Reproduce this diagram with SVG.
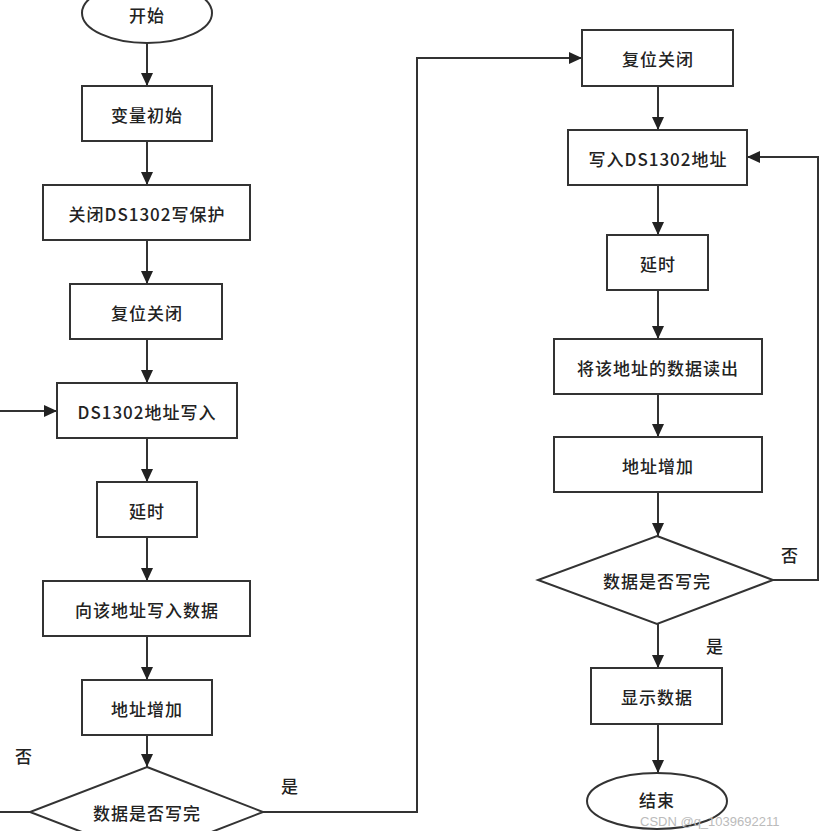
<svg xmlns="http://www.w3.org/2000/svg" width="820" height="831" viewBox="0 0 820 831">
<style>
.s{fill:#fff;stroke:#333;stroke-width:2}
.t{font-family:"Noto Sans CJK SC","Liberation Sans",sans-serif;font-size:17px;font-weight:500;fill:#222;text-anchor:middle;dominant-baseline:central;letter-spacing:1px}
.c{fill:none;stroke:#333;stroke-width:2}
.w{font-family:"Liberation Sans",sans-serif;font-size:13px;fill:#bbb}
</style>
<defs>
<marker id="a" markerUnits="userSpaceOnUse" markerWidth="13" markerHeight="12" refX="13" refY="6" orient="auto">
<path d="M0,0 L13,6 L0,12 Z" fill="#222"/>
</marker>
</defs>
<rect width="820" height="831" fill="#fff"/>
<g id="connectors">
<path class="c" d="M147,43 V86" marker-end="url(#a)"/>
<path class="c" d="M147,141 V185" marker-end="url(#a)"/>
<path class="c" d="M147,240 V284" marker-end="url(#a)"/>
<path class="c" d="M147,339 V383" marker-end="url(#a)"/>
<path class="c" d="M147,438 V482" marker-end="url(#a)"/>
<path class="c" d="M147,537 V581" marker-end="url(#a)"/>
<path class="c" d="M147,636 V680" marker-end="url(#a)"/>
<path class="c" d="M147,735 V767" marker-end="url(#a)"/>
<path class="c" d="M263,812 H417 V58 H582" marker-end="url(#a)"/>
<path class="c" d="M30,812 H-5 V411 H57" marker-end="url(#a)"/>
<path class="c" d="M658,86 V130" marker-end="url(#a)"/>
<path class="c" d="M658,185 V235" marker-end="url(#a)"/>
<path class="c" d="M658,290 V339" marker-end="url(#a)"/>
<path class="c" d="M658,394 V437" marker-end="url(#a)"/>
<path class="c" d="M658,492 V536" marker-end="url(#a)"/>
<path class="c" d="M658,624 V668" marker-end="url(#a)"/>
<path class="c" d="M658,724 V773" marker-end="url(#a)"/>
<path class="c" d="M773,580 H818 V157 H747" marker-end="url(#a)"/>
<text class="t" x="24" y="755">否</text>
<text class="t" x="290" y="785">是</text>
<text class="t" x="790" y="554">否</text>
<text class="t" x="715" y="645">是</text>
</g>
<g id="start"><ellipse class="s" cx="147" cy="13" rx="65" ry="30"/><text class="t" x="147" y="14">开始</text></g>
<g id="init"><rect class="s" x="82" y="86" width="130" height="55"/><text class="t" x="147" y="114">变量初始</text></g>
<g id="wp"><rect class="s" x="43" y="185" width="207" height="55"/><text class="t" x="147" y="213">关闭DS1302写保护</text></g>
<g id="reset1"><rect class="s" x="70" y="284" width="152" height="55"/><text class="t" x="147" y="312">复位关闭</text></g>
<g id="addrw"><rect class="s" x="57" y="383" width="180" height="55"/><text class="t" x="147" y="411">DS1302地址写入</text></g>
<g id="delay1"><rect class="s" x="97" y="482" width="100" height="55"/><text class="t" x="147" y="510">延时</text></g>
<g id="writedata"><rect class="s" x="43" y="581" width="207" height="55"/><text class="t" x="147" y="609">向该地址写入数据</text></g>
<g id="inc1"><rect class="s" x="82" y="680" width="130" height="55"/><text class="t" x="147" y="708">地址增加</text></g>
<g id="dec1"><polygon class="s" points="147,767 263,812 147,857 30,812"/><text class="t" x="147" y="812">数据是否写完</text></g>
<g id="reset2"><rect class="s" x="582" y="30" width="151" height="56"/><text class="t" x="658" y="58">复位关闭</text></g>
<g id="addr2"><rect class="s" x="568" y="130" width="179" height="55"/><text class="t" x="658" y="158">写入DS1302地址</text></g>
<g id="delay2"><rect class="s" x="607" y="235" width="101" height="55"/><text class="t" x="658" y="263">延时</text></g>
<g id="read"><rect class="s" x="554" y="339" width="208" height="55"/><text class="t" x="658" y="367">将该地址的数据读出</text></g>
<g id="inc2"><rect class="s" x="554" y="437" width="208" height="55"/><text class="t" x="658" y="465">地址增加</text></g>
<g id="dec2"><polygon class="s" points="657,536 773,580 657,624 538,580"/><text class="t" x="657" y="580">数据是否写完</text></g>
<g id="show"><rect class="s" x="591" y="668" width="131" height="56"/><text class="t" x="657" y="696">显示数据</text></g>
<g id="end"><ellipse class="s" cx="657" cy="801" rx="70" ry="28"/><text class="t" x="657" y="799">结束</text></g>
<text class="w" x="640" y="826">CSDN @q_1039692211</text>
</svg>
